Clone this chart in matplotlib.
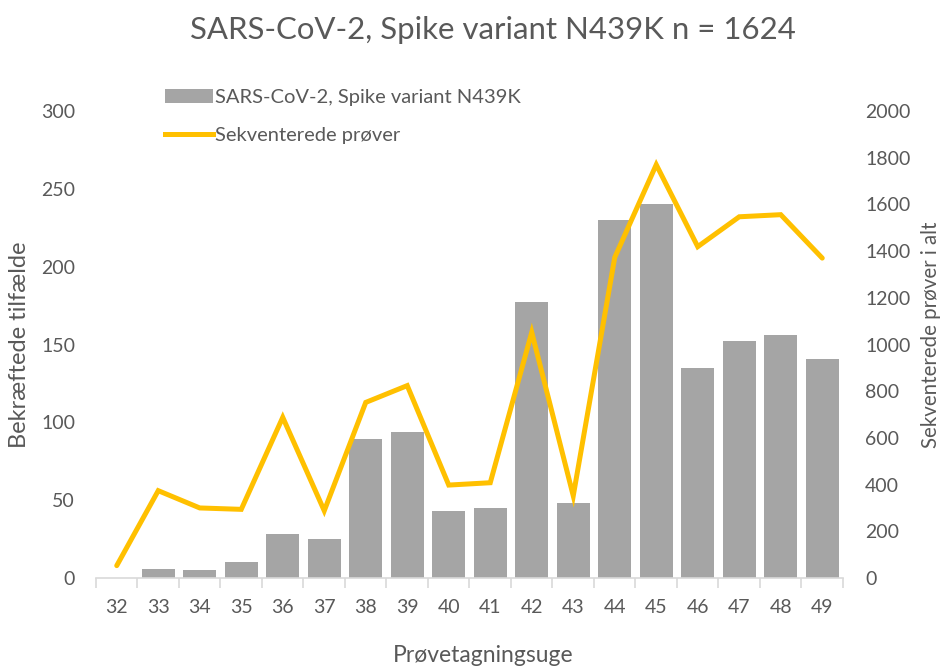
import matplotlib
matplotlib.use("Agg")
import matplotlib.pyplot as plt
from matplotlib.patches import Patch
from matplotlib.lines import Line2D

weeks = ["32", "33", "34", "35", "36", "37", "38", "39", "40", "41",
         "42", "43", "44", "45", "46", "47", "48", "49"]
variant_cases = [0, 6, 5, 10, 28, 25, 89, 94, 43, 45,
                 177, 48, 230, 240, 135, 152, 156, 141]
sequenced = [53, 374, 300, 294, 688, 288, 752, 824, 398, 408,
             1052, 352, 1373, 1770, 1419, 1547, 1556, 1370]
left_ticks = [0, 50, 100, 150, 200, 250, 300]
right_ticks = [0, 200, 400, 600, 800, 1000, 1200, 1400, 1600, 1800, 2000]

title = "SARS-CoV-2, Spike variant N439K n = 1624"
bar_label = "SARS-CoV-2, Spike variant N439K"
line_label = "Sekventerede prøver"

plt.rcParams['font.family'] = ['Lato', 'DejaVu Sans']
txt = "#595959"
bar_color = "#a5a5a5"
line_color = "#ffc000"

W, H = 945, 668
fig = plt.figure(figsize=(W / 100, H / 100), dpi=100)
L, R, T, B = 96, 843, 111, 578
ax = fig.add_axes([L / W, 1 - B / H, (R - L) / W, (B - T) / H])
ax2 = ax.twinx()

x = list(range(len(weeks)))
ax.bar(x, variant_cases, width=0.8, color=bar_color, zorder=2)
ax2.plot(x, sequenced, color=line_color, lw=3.6, solid_joinstyle='miter',
         solid_capstyle='round', zorder=3)

ax.set_xlim(-0.5, len(weeks) - 0.5)
ax.set_ylim(0, 300)
ax2.set_ylim(0, 2000)
ax.set_yticks(left_ticks)
ax2.set_yticks(right_ticks)

ax.set_xticks(x)
ax.set_xticklabels(weeks)
ax.set_xticks([i - 0.5 for i in range(len(weeks) + 1)], minor=True)
ax.tick_params(axis='x', which='major', length=0, pad=15, labelsize=14, labelcolor=txt)
ax.tick_params(axis='x', which='minor', length=7, color="#d9d9d9", width=1.2)
ax.tick_params(axis='y', length=0, pad=15, labelsize=14, labelcolor=txt)
ax2.tick_params(axis='y', length=0, pad=16, labelsize=14, labelcolor=txt)

for a in (ax, ax2):
    for s in ("top", "left", "right", "bottom"):
        a.spines[s].set_visible(False)
ax.spines["bottom"].set_visible(True)
ax.spines["bottom"].set_color("#d9d9d9")
ax.spines["bottom"].set_linewidth(1.2)

ax.set_xlabel("Prøvetagningsuge", fontsize=16.5, color=txt,
              ha='center', va='center')
ax.xaxis.set_label_coords((483 - L) / (R - L), (B - 655) / (B - T))
ax.set_ylabel("Bekræftede tilfælde", fontsize=17, color=txt,
              ha='center', va='center', rotation_mode='default')
ax.yaxis.set_label_coords((20 - L) / (R - L), 0.5)
ax2.set_ylabel("Sekventerede prøver i alt", fontsize=14.8, color=txt,
               rotation=90, ha='center', va='center', rotation_mode='default')
ax2.yaxis.set_label_coords((931 - L) / (R - L), (B - 335) / (B - T))

fig.text(493 / W, 1 - 30 / H, title, ha='center', va='center', fontsize=22.4, color=txt)

handles = [Patch(facecolor=bar_color, edgecolor='none'),
           Line2D([0], [0], color=line_color, lw=3.6)]
leg = fig.legend(handles, [bar_label, line_label], loc='upper left',
                 bbox_to_anchor=(165 / W, 1 - 89 / H), frameon=False,
                 fontsize=14.5, labelcolor=txt, handlelength=2.4,
                 handletextpad=0.1, labelspacing=1.05, borderaxespad=0,
                 borderpad=0)

fig.savefig("out.png", dpi=100)
